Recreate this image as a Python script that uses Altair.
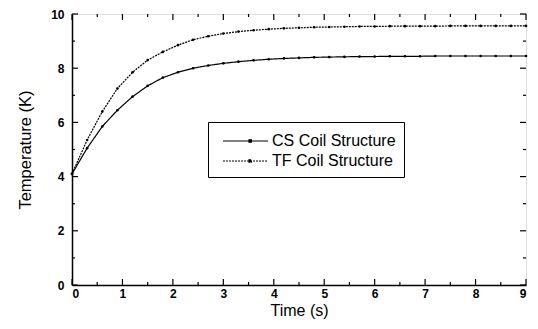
import altair as alt
import pandas as pd

time = [0.0, 0.3, 0.6, 0.9, 1.2, 1.5, 1.8, 2.1, 2.4, 2.7, 3.0, 3.3, 3.6, 3.9, 4.2, 4.5,
        4.8, 5.1, 5.4, 5.7, 6.0, 6.3, 6.6, 6.9, 7.2, 7.5, 7.8, 8.1, 8.4, 8.7, 9.0]
cs = [4.10, 5.05, 5.85, 6.45, 6.95, 7.35, 7.65, 7.85, 8.00, 8.10, 8.18, 8.24, 8.29, 8.33,
      8.36, 8.38, 8.40, 8.41, 8.42, 8.43, 8.43, 8.44, 8.44, 8.44, 8.45, 8.45, 8.45, 8.45,
      8.45, 8.45, 8.45]
tf = [4.10, 5.35, 6.40, 7.25, 7.85, 8.30, 8.60, 8.85, 9.05, 9.18, 9.28, 9.35, 9.40, 9.44,
      9.47, 9.49, 9.51, 9.52, 9.53, 9.54, 9.54, 9.55, 9.55, 9.55, 9.55, 9.56, 9.56, 9.56,
      9.56, 9.56, 9.56]
series = ["CS Coil Structure", "TF Coil Structure"]

x_major = [0, 1, 2, 3, 4, 5, 6, 7, 8, 9]
x_minor = [0.5, 1.5, 2.5, 3.5, 4.5, 5.5, 6.5, 7.5, 8.5]
y_major = [0, 2, 4, 6, 8, 10]
y_minor = [1, 3, 5, 7, 9]

W, H = 454, 271
FONT = "Liberation Sans"

df = pd.DataFrame({
    "t": time * 2,
    "T": cs + tf,
    "s": [series[0]] * len(time) + [series[1]] * len(time),
})

xs = alt.Scale(domain=[0, 9], nice=False)
ys = alt.Scale(domain=[0, 10], nice=False)

dash = alt.StrokeDash("s:N", scale=alt.Scale(domain=series, range=[[1, 0], [2, 1]]),
                      legend=alt.Legend(title=None, orient="none", legendX=136, legendY=108,
                                        symbolType="M-0.4,0H4.1M2.2,-0.12h0.24v0.24h-0.24z",
                                        symbolSize=400, symbolStrokeWidth=1.2,
                                        symbolStrokeColor="black", symbolFillColor="black",
                                        labelFont=FONT, labelFontSize=16, labelColor="black",
                                        strokeColor="black", fillColor="white",
                                        padding=8, rowPadding=1, labelOffset=34,
                                        labelLimit=300))

lines = alt.Chart(df).mark_line(color="black", strokeWidth=1.2).encode(
    x=alt.X("t:Q", scale=xs, title="Time (s)",
            axis=alt.Axis(values=x_major, format="d", ticks=False, grid=False,
                          labelFont=FONT, labelFontSize=12, labelFontWeight="bold",
                          labelColor="black", labelPadding=3, domainColor="black",
                          domainWidth=1.5, titleFont=FONT, titleFontSize=16,
                          titleFontWeight="normal", titleColor="black", titlePadding=3)),
    y=alt.Y("T:Q", scale=ys, title="Temperature (K)",
            axis=alt.Axis(values=y_major, format="d", ticks=False, grid=False,
                          labelFont=FONT, labelFontSize=12, labelFontWeight="bold",
                          labelColor="black", labelPadding=8, domainColor="black",
                          domainWidth=1.5, titleFont=FONT, titleFontSize=16.5,
                          titleFontWeight="normal", titleColor="black", titlePadding=17)),
    strokeDash=dash,
    detail="s:N",
)

points = alt.Chart(df).mark_point(filled=True, color="black", size=7, opacity=1).encode(
    x=alt.X("t:Q", scale=xs), y=alt.Y("T:Q", scale=ys), detail="s:N"
)

def ticks_x(vals, length):
    d = pd.DataFrame({"v": vals})
    b = alt.Chart(d).mark_rule(color="black", strokeWidth=1.2).encode(
        x=alt.X("v:Q", scale=xs), y=alt.value(H), y2=alt.value(H - length))
    t = alt.Chart(d).mark_rule(color="black", strokeWidth=1.2).encode(
        x=alt.X("v:Q", scale=xs), y=alt.value(0), y2=alt.value(length))
    return b + t

def ticks_y(vals, length):
    d = pd.DataFrame({"v": vals})
    l = alt.Chart(d).mark_rule(color="black", strokeWidth=1.2).encode(
        y=alt.Y("v:Q", scale=ys), x=alt.value(0), x2=alt.value(length))
    r = alt.Chart(d).mark_rule(color="black", strokeWidth=1.2).encode(
        y=alt.Y("v:Q", scale=ys), x=alt.value(W), x2=alt.value(W - length))
    return l + r

chart = alt.layer(
    lines, points,
    ticks_x(x_major, 6), ticks_x(x_minor, 3),
    ticks_y(y_major, 6), ticks_y(y_minor, 3),
).properties(
    width=W, height=H,
    autosize=alt.AutoSizeParams(type="none"),
    padding={"left": 64, "top": 6, "right": 4, "bottom": 36},
).configure_view(stroke="black", strokeWidth=1.5).configure(background="white")

chart.save("out.html", embed_options={"renderer": "svg", "actions": False})
